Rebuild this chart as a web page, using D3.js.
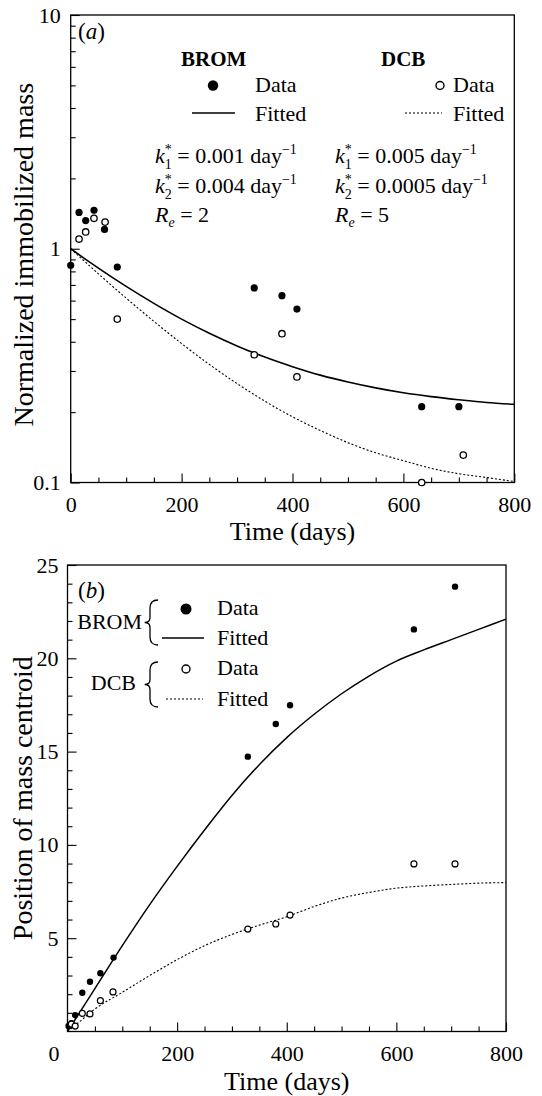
<!DOCTYPE html>
<html><head><meta charset="utf-8">
<script src="https://cdn.jsdelivr.net/npm/d3@7"></script>
<style>body{margin:0;background:#fff}svg{display:block}
svg text{font-family:"Liberation Serif","Times New Roman",Times,Tinos,"DejaVu Serif",serif !important;}</style>
</head><body><svg id="c" width="542" height="1096"></svg>
<script>
// ---------- DATA ----------
// Panel (a): normalized immobilized mass
const aBromDays = [0, 15, 27, 42, 61, 84, 331, 381, 408, 633, 700];
const aBromMass = [0.85, 1.43, 1.32, 1.46, 1.21, 0.835, 0.68, 0.63, 0.552, 0.211, 0.211];
const aDcbDays = [15, 27, 42, 62, 84, 331, 381, 408, 633, 708];
const aDcbMass = [1.10, 1.18, 1.35, 1.30, 0.50, 0.352, 0.433, 0.283, 0.100, 0.131];
const fitDays = [0, 25, 50, 100, 150, 200, 250, 300, 350, 400, 450, 500, 550, 600, 650, 700, 750, 800];
const aBromFit = [1.0, 0.908, 0.826, 0.690, 0.584, 0.500, 0.435, 0.384, 0.344, 0.313, 0.288, 0.269, 0.254, 0.242, 0.233, 0.226, 0.220, 0.216];
const aDcbFit = [1.0, 0.884, 0.781, 0.615, 0.489, 0.393, 0.320, 0.265, 0.223, 0.191, 0.167, 0.148, 0.134, 0.124, 0.115, 0.109, 0.105, 0.101];
// Panel (b): position of mass centroid
const bBromDays = [2, 7, 14, 27, 41, 60, 84, 329, 380, 406, 632, 707];
const bBromPos = [0.3, 0.44, 0.87, 2.08, 2.67, 3.12, 3.96, 14.73, 16.48, 17.48, 21.55, 23.84];
const bDcbDays = [7, 14, 27, 41, 60, 83, 329, 380, 406, 632, 707];
const bDcbPos = [0.4, 0.29, 0.97, 0.94, 1.65, 2.12, 5.49, 5.76, 6.24, 8.98, 8.98];
const bBromFit = [0, 1.15, 2.3, 4.6, 6.8, 8.85, 10.8, 12.65, 14.3, 15.75, 17.0, 18.1, 19.05, 19.85, 20.45, 21.0, 21.55, 22.1];
const bDcbFit = [0, 0.6, 1.2, 2.1, 3.0, 3.85, 4.6, 5.2, 5.7, 6.15, 6.7, 7.15, 7.45, 7.68, 7.8, 7.88, 7.95, 7.98];
// Ticks
const xMajor = [0, 200, 400, 600, 800];
const xMinor = [50, 100, 150, 250, 300, 350, 450, 500, 550, 650, 700, 750];
const aYMajor = [0.1, 1, 10];
const aYLabels = ["0.1", "1", "10"];
const aYMinor = [0.2, 0.3, 0.4, 0.5, 0.6, 0.7, 0.8, 0.9, 2, 3, 4, 5, 6, 7, 8, 9];
const bYMajor = [5, 10, 15, 20, 25];
const bYMinor = [1, 2, 3, 4, 6, 7, 8, 9, 11, 12, 13, 14, 16, 17, 18, 19, 21, 22, 23, 24];

// ---------- DRAW ----------
const FONT = '"Liberation Serif","Times New Roman",Times,Tinos,"DejaVu Serif",serif';
const svg = d3.select("#c").attr("font-family", FONT);

function frame(g, w, h) {
  g.append("rect").attr("x", 0).attr("y", 0).attr("width", w).attr("height", h)
    .attr("fill", "none").attr("stroke", "#000").attr("stroke-width", 1.3);
}
function styleAxis(sel, fs) {
  sel.attr("font-family", FONT).attr("font-size", fs);
  sel.select(".domain").remove();
  sel.selectAll(".tick line").attr("stroke", "#000").attr("stroke-width", 1.1);
  sel.selectAll(".tick text").attr("fill", "#000");
}
function txt(x, y, s, fs) {
  return svg.append("text").attr("x", x).attr("y", y).attr("font-size", fs).attr("font-family", FONT).text(s);
}

// ===== Panel (a) =====
const A = {l: 70.7, t: 15, r: 514.3, b: 482.5};
const aw = A.r - A.l, ah = A.b - A.t;
const ga = svg.append("g").attr("transform", `translate(${A.l},${A.t})`);
const xa = d3.scaleLinear().domain([0, 800]).range([0, aw]);
const ya = d3.scaleLog().domain([0.1, 10]).range([ah, 0]);

ga.append("g").attr("transform", `translate(0,${ah})`)
  .call(d3.axisBottom(xa).tickValues(xMinor).tickSize(-5).tickFormat(""))
  .call(s => styleAxis(s, 22));
ga.append("g").attr("transform", `translate(0,${ah})`)
  .call(d3.axisBottom(xa).tickValues(xMajor).tickSize(-9).tickPadding(14).tickFormat(d3.format("d")))
  .call(s => styleAxis(s, 22));
ga.append("g")
  .call(d3.axisLeft(ya).tickValues(aYMinor).tickSize(-5).tickFormat(""))
  .call(s => styleAxis(s, 22));
ga.append("g")
  .call(d3.axisLeft(ya).tickValues(aYMajor).tickSize(-9).tickPadding(10).tickFormat((d, i) => aYLabels[i]))
  .call(s => styleAxis(s, 22));
frame(ga, aw, ah);

const lineA = d3.line().x(d => xa(d[0])).y(d => ya(d[1])).curve(d3.curveMonotoneX);
ga.append("path").datum(d3.zip(fitDays, aBromFit)).attr("d", lineA)
  .attr("fill", "none").attr("stroke", "#000").attr("stroke-width", 1.6);
ga.append("path").datum(d3.zip(fitDays, aDcbFit)).attr("d", lineA)
  .attr("fill", "none").attr("stroke", "#000").attr("stroke-width", 1.1).attr("stroke-dasharray", "2,2");
ga.selectAll("circle.af").data(d3.zip(aBromDays, aBromMass)).join("circle")
  .attr("cx", d => xa(d[0])).attr("cy", d => ya(d[1])).attr("r", 3.6).attr("fill", "#000");
ga.selectAll("circle.ao").data(d3.zip(aDcbDays, aDcbMass)).join("circle")
  .attr("cx", d => xa(d[0])).attr("cy", d => ya(d[1])).attr("r", 3.2)
  .attr("fill", "#fff").attr("stroke", "#000").attr("stroke-width", 1.3);

txt(78, 39, "", 23).html('(<tspan font-style="italic">a</tspan>)');

// legend (a)
txt(181, 66, "BROM", 21).attr("font-weight", "bold");
txt(381, 66, "DCB", 21).attr("font-weight", "bold");
svg.append("circle").attr("cx", 213).attr("cy", 85.5).attr("r", 5.2).attr("fill", "#000");
svg.append("circle").attr("cx", 440).attr("cy", 85.5).attr("r", 4).attr("fill", "#fff").attr("stroke", "#000").attr("stroke-width", 1.4);
svg.append("line").attr("x1", 192).attr("x2", 235).attr("y1", 113).attr("y2", 113).attr("stroke", "#000").attr("stroke-width", 1.5);
svg.append("line").attr("x1", 405).attr("x2", 442).attr("y1", 113).attr("y2", 113).attr("stroke", "#000").attr("stroke-width", 1.1).attr("stroke-dasharray", "2,2");
[[255, 92, "Data"], [255, 121, "Fitted"], [453, 92, "Data"], [453, 121, "Fitted"]].forEach(([x, y, t]) => txt(x, y, t, 22));

function kText(x, y, sub, val) {
  txt(x, y, "", 22).html(
    `<tspan font-style="italic">k</tspan><tspan font-size="14" dy="-9">*</tspan>` +
    `<tspan font-size="14" dx="-7" dy="15">${sub}</tspan>` +
    `<tspan dy="-6"> = ${val} day</tspan><tspan font-size="14" dy="-9">−1</tspan>`);
}
function rText(x, y, val) {
  txt(x, y, "", 22).html(
    `<tspan font-style="italic">R</tspan><tspan font-size="14" font-style="italic" dy="5">e</tspan>` +
    `<tspan dy="-5"> = ${val}</tspan>`);
}
kText(155, 163, "1", "0.001");
kText(155, 193, "2", "0.004");
rText(155, 222, "2");
kText(335, 163, "1", "0.005");
kText(335, 193, "2", "0.0005");
rText(335, 222, "5");

txt(A.l + aw / 2, 540, "Time (days)", 26).attr("text-anchor", "middle");
svg.append("text").attr("transform", `translate(33,${(A.t + A.b) / 2 + 6}) rotate(-90)`).attr("text-anchor", "middle")
  .attr("font-family", FONT).attr("font-size", 28).text("Normalized immobilized mass");

// ===== Panel (b) =====
const B = {l: 67.5, t: 565, r: 506, b: 1031.5};
const bw = B.r - B.l, bh = B.b - B.t;
const gb = svg.append("g").attr("transform", `translate(${B.l},${B.t})`);
const xb = d3.scaleLinear().domain([0, 800]).range([0, bw]);
const yb = d3.scaleLinear().domain([0, 25]).range([bh, 0]);

gb.append("g").attr("transform", `translate(0,${bh})`)
  .call(d3.axisBottom(xb).tickValues(xMinor).tickSize(-5).tickFormat(""))
  .call(s => styleAxis(s, 22));
gb.append("g").attr("transform", `translate(0,${bh})`)
  .call(d3.axisBottom(xb).tickValues(xMajor).tickSize(-9).tickPadding(14).tickFormat(d3.format("d")))
  .call(s => { styleAxis(s, 22); s.selectAll(".tick text").filter(d => d === 0).attr("dx", -14); });
gb.append("g")
  .call(d3.axisLeft(yb).tickValues(bYMinor).tickSize(-5).tickFormat(""))
  .call(s => styleAxis(s, 22));
gb.append("g")
  .call(d3.axisLeft(yb).tickValues(bYMajor).tickSize(-9).tickPadding(9).tickFormat(d3.format("d")))
  .call(s => styleAxis(s, 22));
frame(gb, bw, bh);

const lineB = d3.line().x(d => xb(d[0])).y(d => yb(d[1])).curve(d3.curveMonotoneX);
gb.append("path").datum(d3.zip(fitDays, bBromFit)).attr("d", lineB)
  .attr("fill", "none").attr("stroke", "#000").attr("stroke-width", 1.5);
gb.append("path").datum(d3.zip(fitDays, bDcbFit)).attr("d", lineB)
  .attr("fill", "none").attr("stroke", "#000").attr("stroke-width", 1.1).attr("stroke-dasharray", "2,2");
gb.selectAll("circle.bf").data(d3.zip(bBromDays, bBromPos)).join("circle")
  .attr("cx", d => xb(d[0])).attr("cy", d => yb(d[1])).attr("r", 3.2).attr("fill", "#000");
gb.selectAll("circle.bo").data(d3.zip(bDcbDays, bDcbPos)).join("circle")
  .attr("cx", d => xb(d[0])).attr("cy", d => yb(d[1])).attr("r", 3)
  .attr("fill", "#fff").attr("stroke", "#000").attr("stroke-width", 1.2);

txt(78, 598, "", 23).html('(<tspan font-style="italic">b</tspan>)');
// legend (b)
txt(142, 629, "BROM", 22).attr("text-anchor", "end");
txt(136, 690, "DCB", 22).attr("text-anchor", "end");
function brace(x, y0, y1) {
  const m = (y0 + y1) / 2, w = 8;
  svg.append("path").attr("d",
    `M${x + w},${y0} Q${x},${y0} ${x},${y0 + 8} L${x},${m - 5} Q${x},${m} ${x - w / 1.5},${m} Q${x},${m} ${x},${m + 5} L${x},${y1 - 8} Q${x},${y1} ${x + w},${y1}`)
    .attr("fill", "none").attr("stroke", "#000").attr("stroke-width", 1.3);
}
brace(150, 600, 645);
brace(150, 662, 707);
svg.append("circle").attr("cx", 186).attr("cy", 609).attr("r", 5.5).attr("fill", "#000");
svg.append("circle").attr("cx", 186).attr("cy", 669).attr("r", 4).attr("fill", "#fff").attr("stroke", "#000").attr("stroke-width", 1.4);
svg.append("line").attr("x1", 162).attr("x2", 204).attr("y1", 638).attr("y2", 638).attr("stroke", "#000").attr("stroke-width", 1.5);
svg.append("line").attr("x1", 166).attr("x2", 203).attr("y1", 699).attr("y2", 699).attr("stroke", "#000").attr("stroke-width", 1.1).attr("stroke-dasharray", "2,2");
[[217, 615, "Data"], [217, 645, "Fitted"], [217, 675, "Data"], [217, 706, "Fitted"]].forEach(([x, y, t]) => txt(x, y, t, 22));

txt(B.l + bw / 2, 1090, "Time (days)", 26).attr("text-anchor", "middle");
svg.append("text").attr("transform", `translate(32,${(B.t + B.b) / 2}) rotate(-90)`).attr("text-anchor", "middle")
  .attr("font-family", FONT).attr("font-size", 28).text("Position of mass centroid");
</script></body></html>
